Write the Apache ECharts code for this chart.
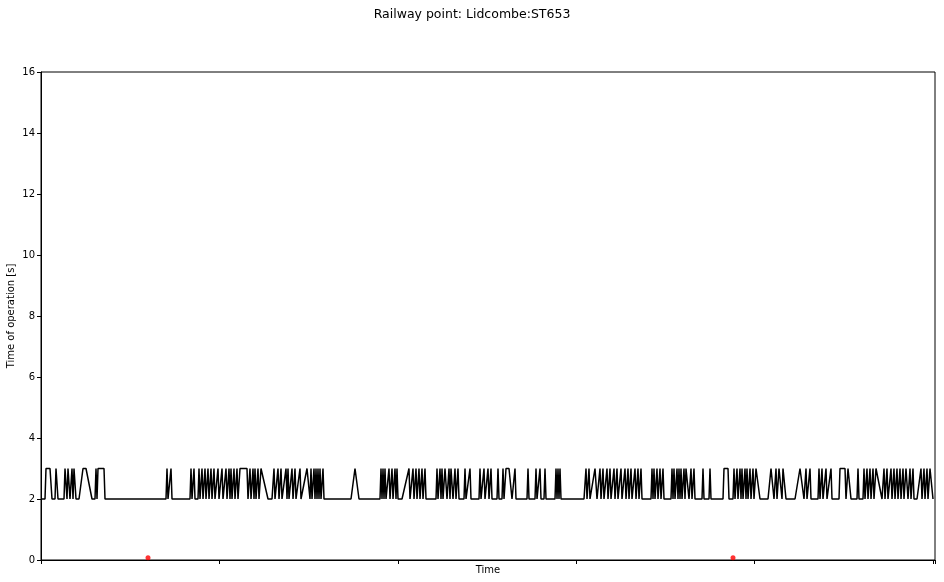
<!DOCTYPE html>
<html>
<head>
<meta charset="utf-8">
<script src="https://cdn.jsdelivr.net/npm/echarts@6/dist/echarts.min.js"></script>
<style>html,body{margin:0;padding:0;background:#fff}#c{width:944px;height:582px}</style>
</head>
<body>
<div id="c"></div>
<script>
// time (arbitrary units from start of the record) and time of operation [s]
const times = [
0,4,5,7,9,11,14,15,17,20,23,24,26,27,29,31,32,33,35,38,42,44,45,51,54,55,56,57,59,63,64,
80,100,120,125,126,127,129,130,131,140,149,
150,151,152,153,154,157,158,159,161,162,164,165,167,168,170,171,173,174,177,178,
181,182,185,186,188,189,190,191,193,194,196,197,198,199,201,203,206,207,209,210,212,213,214,215,217,218,
220,221,227,231,233,234,237,238,240,241,245,246,247,248,251,252,254,255,259,260,262,266,269,270,271,
273,274,275,276,277,278,279,280,282,283,295,310,314,318,330,339,
340,341,342,343,344,345,348,349,351,352,354,355,356,357,361,
368,369,372,373,375,376,378,379,381,382,384,385,387,395,
396,397,399,400,401,402,404,405,406,408,409,410,412,414,415,417,418,420,423,424,425,429,430,
438,439,440,443,444,447,448,450,451,
456,457,458,461,462,463,464,465,468,470,471,473,474,475,486,487,488,494,495,496,498,499,500,503,504,505,
514,515,516,517,518,519,520,530,543,
544,545,546,548,549,551,554,556,558,559,560,562,563,565,566,567,569,570,572,573,574,576,577,579,580,581,583,584,585,587,588,590,591,593,594,595,597,598,600,601,
610,611,612,613,614,616,617,619,620,622,623,630,
631,632,633,634,636,637,638,639,640,641,643,644,645,647,648,650,651,653,654,661,662,663,668,669,670,
682,683,687,688,692,693,694,696,697,699,700,701,702,704,705,706,707,709,710,712,713,715,719,
727,730,733,735,736,738,741,742,745,754,
759,763,765,766,769,770,777,778,779,781,782,785,786,790,791,798,799,804,805,807,809,810,816,817,818,
822,823,824,826,827,829,830,832,833,835,836,841,843,844,846,847,850,851,853,854,856,857,859,860,862,863,865,866,867,869,870,872,873,876,880,881,883,884,886,887,889,892
];
const values = [
2,2,3,3,3,2,2,3,2,2,2,3,2,3,2,3,2,3,2,2,3,3,3,2,2,3,2,3,3,3,2,
2,2,2,2,3,2,2,3,2,2,2,
3,2,2,3,2,2,3,2,3,2,3,2,3,2,3,2,3,2,3,2,
3,2,3,2,3,2,3,2,3,2,3,2,2,3,3,3,3,2,3,2,3,2,3,2,3,2,
3,3,2,2,3,2,3,2,3,2,3,2,3,2,3,2,3,2,3,2,2,3,2,3,2,
3,2,3,2,3,2,3,2,3,2,2,2,3,2,2,2,
3,2,3,2,3,2,3,2,3,2,3,2,3,2,2,
3,2,3,2,3,2,3,2,3,2,3,2,2,2,
3,2,3,2,3,2,3,3,2,3,2,3,2,3,2,3,2,2,2,3,2,3,2,
2,3,2,3,2,3,2,3,2,
2,3,2,2,3,2,2,3,3,3,2,2,3,2,2,3,2,2,3,2,2,3,2,2,3,2,
2,3,2,3,2,3,2,2,2,
2,3,2,3,2,2,3,2,2,3,2,3,2,2,3,2,3,2,2,3,2,3,2,2,3,2,2,3,2,3,2,3,2,2,3,2,3,2,3,2,
2,3,2,3,2,3,2,3,2,3,2,2,
3,2,3,2,3,2,3,2,3,2,3,2,3,3,2,3,2,3,2,2,3,2,2,3,2,
2,3,3,2,2,3,2,3,2,3,2,3,2,3,2,3,2,3,2,3,2,3,2,
2,3,2,3,2,3,2,3,2,2,
3,2,3,2,3,2,2,3,2,3,2,3,2,3,2,2,3,3,2,3,3,2,2,3,2,
2,3,2,3,2,3,2,3,2,3,3,2,3,2,3,2,3,2,3,2,3,2,3,2,3,2,3,3,2,3,2,3,2,2,3,2,3,2,3,2,3,2
];
// flagged events (red markers)
const eventTimes = [107, 692];
const eventValues = [0.07, 0.07];

const titleText = 'Railway point: Lidcombe:ST653';
const xName = 'Time';
const yName = 'Time of operation [s]';

const lineData = times.map((t, i) => [t, values[i]]);
const eventData = eventTimes.map((t, i) => [t, eventValues[i]]);

const chart = echarts.init(document.getElementById('c'), null, {renderer: 'canvas'});
const font = 'DejaVu Sans';
chart.setOption({
  animation: false,
  backgroundColor: '#fff',
  textStyle: {fontFamily: font},
  title: {
    text: titleText, left: 'center', top: 3,
    textStyle: {fontFamily: font, fontSize: 12.5, fontWeight: 'normal', color: '#000'}
  },
  grid: {left: 41, top: 72, width: 894, height: 488, show: true, borderColor: '#000', borderWidth: 1, backgroundColor: 'transparent', containLabel: false, outerBoundsMode: 'none'},
  xAxis: {
    type: 'value', min: 0, max: 894, interval: 178.4,
    name: xName, nameLocation: 'middle', nameGap: 5, nameMoveOverlap: false,
    nameTextStyle: {fontFamily: font, fontSize: 10, color: '#000', verticalAlign: 'top'},
    axisLine: {show: true, onZero: false, lineStyle: {color: '#000', width: 1}},
    axisTick: {show: true, inside: false, length: 4, lineStyle: {color: '#000'}},
    axisLabel: {show: false},
    splitLine: {show: false}
  },
  yAxis: {
    type: 'value', min: 0, max: 16, interval: 2,
    name: yName, nameLocation: 'middle', nameGap: 25, nameRotate: 90, nameMoveOverlap: false,
    nameTextStyle: {fontFamily: font, fontSize: 10, color: '#000'},
    axisLine: {show: true, lineStyle: {color: '#000', width: 1}},
    axisTick: {show: true, inside: false, length: 4, lineStyle: {color: '#000'}},
    axisLabel: {fontFamily: font, fontSize: 10, color: '#000', margin: 6},
    splitLine: {show: false}
  },
  series: [
    {
      type: 'line', data: lineData, showSymbol: false, symbol: 'none',
      lineStyle: {color: '#000', width: 1.5}, z: 2
    },
    {
      type: 'scatter', data: eventData, symbol: 'circle', symbolSize: 5,
      itemStyle: {color: '#ff0000'}, z: 3
    }
  ]
});
</script>
</body>
</html>
